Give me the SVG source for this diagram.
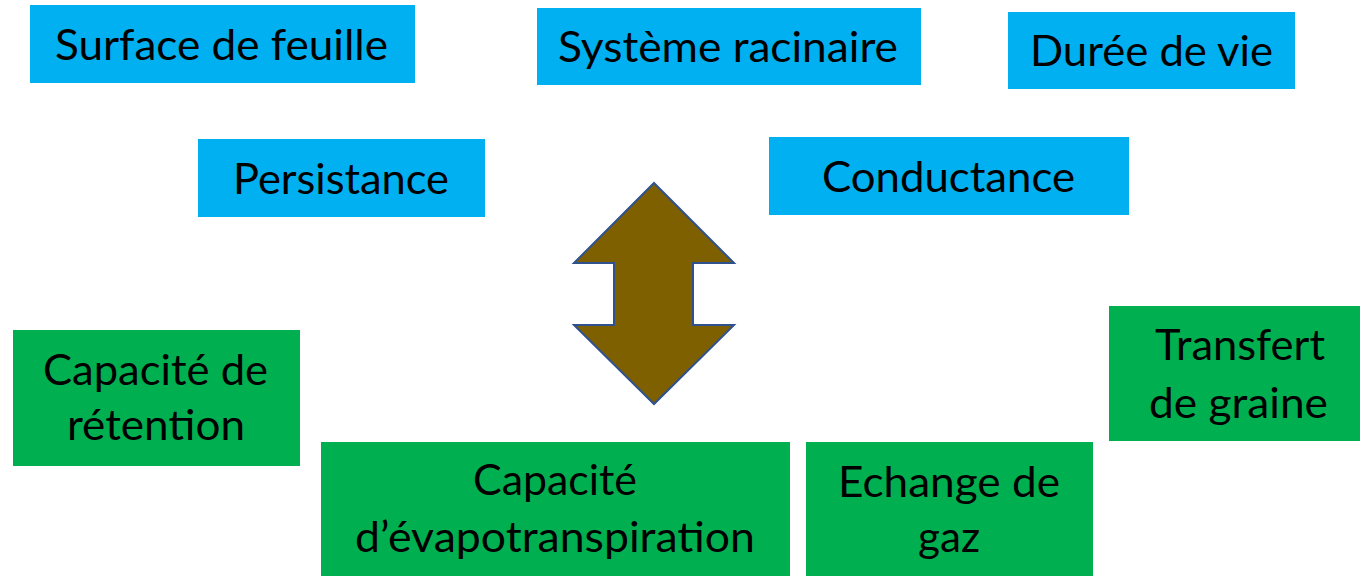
<svg xmlns="http://www.w3.org/2000/svg" width="1360" height="576" viewBox="0 0 1360 576">
<style>
.b{fill:#00B0F0}
.g{fill:#00B050}
text{font-family:Lato,"Open Sans","Liberation Sans",sans-serif;font-size:42px;fill:#000;text-anchor:middle}
</style>
<rect width="1360" height="576" fill="#fff"/>
<g id="surface"><rect class="b" x="30" y="5" width="385" height="78"/><text x="221.5" y="60" textLength="333" lengthAdjust="spacingAndGlyphs">Surface de feuille</text></g>
<g id="systeme"><rect class="b" x="537" y="8" width="384" height="77"/><text x="728" y="62" textLength="340" lengthAdjust="spacingAndGlyphs">Système racinaire</text></g>
<g id="duree"><rect class="b" x="1008" y="12" width="287" height="77"/><text x="1151.5" y="66" textLength="243" lengthAdjust="spacingAndGlyphs">Durée de vie</text></g>
<g id="persistance"><rect class="b" x="198" y="139" width="287" height="78"/><text x="341" y="194" textLength="216" lengthAdjust="spacingAndGlyphs">Persistance</text></g>
<g id="conductance"><rect class="b" x="769" y="137" width="360" height="78"/><text x="948.5" y="192" textLength="253" lengthAdjust="spacingAndGlyphs">Conductance</text></g>
<g id="retention"><rect class="g" x="13" y="330" width="287" height="136"/><text x="155.5" y="385" textLength="225" lengthAdjust="spacingAndGlyphs">Capacité de</text><text x="156" y="440" textLength="178" lengthAdjust="spacingAndGlyphs">rétention</text></g>
<g id="evapo"><rect class="g" x="321" y="442" width="469" height="134"/><text x="555" y="495" textLength="164" lengthAdjust="spacingAndGlyphs">Capacité</text><text x="555" y="552" textLength="400" lengthAdjust="spacingAndGlyphs">d’évapotranspiration</text></g>
<g id="echange"><rect class="g" x="806" y="442" width="287" height="134"/><text x="949" y="497" textLength="222" lengthAdjust="spacingAndGlyphs">Echange de</text><text x="949" y="552" textLength="62" lengthAdjust="spacingAndGlyphs">gaz</text></g>
<g id="transfert"><rect class="g" x="1109" y="306" width="251" height="135"/><text x="1240" y="360" textLength="170" lengthAdjust="spacingAndGlyphs">Transfert</text><text x="1238.5" y="418" textLength="179" lengthAdjust="spacingAndGlyphs">de graine</text></g>
<g id="connectors"><path d="M654 183 L734 263 L693 263 L693 325 L734 325 L654 404 L574 325 L614 325 L614 263 L574 263 Z" fill="#7F6000" stroke="#2F528F" stroke-width="2" stroke-linejoin="miter"/></g>
</svg>
